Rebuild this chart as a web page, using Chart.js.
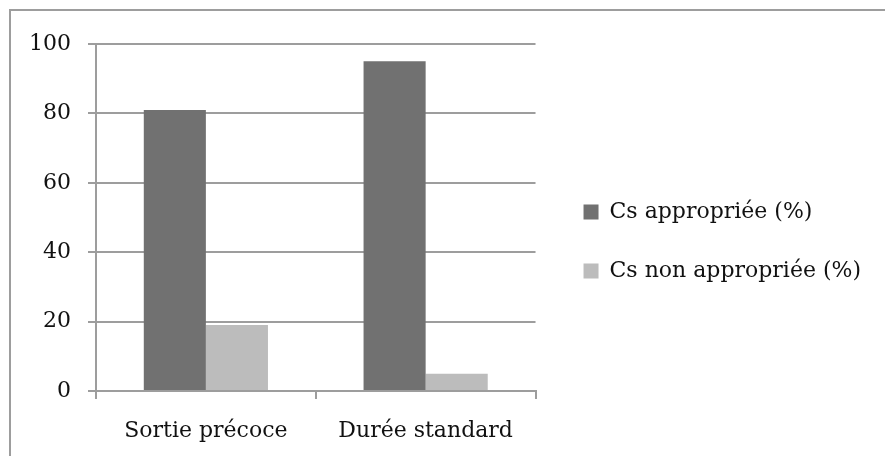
<!DOCTYPE html>
<html>
<head>
<meta charset="utf-8">
<script src="https://cdn.jsdelivr.net/npm/chart.js@4/dist/chart.umd.min.js"></script>
<style>
  html, body { margin: 0; padding: 0; background: #fff; overflow: hidden; }
  #wrap { position: relative; width: 885px; height: 456px; }
  #frame { position: absolute; left: 9px; top: 9px; width: 1000px; height: 1000px;
           border: 2px solid #9d9d9d; box-sizing: border-box; pointer-events: none; }
  canvas { position: absolute; left: 0; top: 0; }
</style>
</head>
<body>
<div id="wrap">
  <canvas id="barCanvas" width="885" height="456"></canvas>
  <div id="frame"></div>
</div>
<script>
const categories = ["Sortie précoce", "Durée standard"];
const appropriee = [81, 95];
const nonAppropriee = [19, 5];
const yTicks = [0, 20, 40, 60, 80, 100];

const gray = "#9d9d9d";
Chart.defaults.font.family = "'DejaVu Serif', serif";
Chart.defaults.font.size = 22;
Chart.defaults.color = "#111";

// empty scales, only used as spacers in the layout
const spacer = function(pos, size) {
    return {
        type: "linear",
        position: pos,
        grid: { display: false },
        border: { display: false },
        ticks: { display: false },
        afterFit: function(scale) {
            if (pos === "top") scale.height = size; else scale.width = size;
        }
    };
};

const barCanvas = document.getElementById("barCanvas");

const barChart = new Chart(barCanvas, {
    type: "bar",
    data: {
        labels: categories,
        datasets: [{
            label: "Cs appropriée (%)",
            data: appropriee,
            backgroundColor: "#717171"
        },
        {
            label: "Cs non appropriée (%)",
            data: nonAppropriee,
            backgroundColor: "#bcbcbc"
        }]
    },
    options: {
        responsive: false,
        animation: false,
        layout: { padding: { left: 12, right: 14, top: 29, bottom: 2 } },
        datasets: { bar: { categoryPercentage: 0.565, barPercentage: 1 } },
        plugins: {
            tooltip: { enabled: false },
            legend: {
                position: "right",
                maxWidth: 400,
                labels: { boxWidth: 15, boxHeight: 15, padding: 37 }
            }
        },
        scales: {
            x: {
                grid: { drawOnChartArea: false, color: gray, lineWidth: 2, tickLength: 8 },
                border: { color: gray, width: 2 },
                ticks: { padding: 19 },
                afterFit: function(scale) { scale.height = 63; }
            },
            y: {
                min: 0,
                max: 100,
                afterBuildTicks: function(scale) {
                    scale.ticks = yTicks.map(function(v) { return { value: v }; });
                },
                grid: { color: gray, lineWidth: 2, tickLength: 8 },
                border: { color: gray, width: 2 },
                ticks: { padding: 17 }
            },
            gapTop: spacer("top", 15),
            gap: spacer("right", 11)
        }
    }
});
</script>
</body>
</html>
